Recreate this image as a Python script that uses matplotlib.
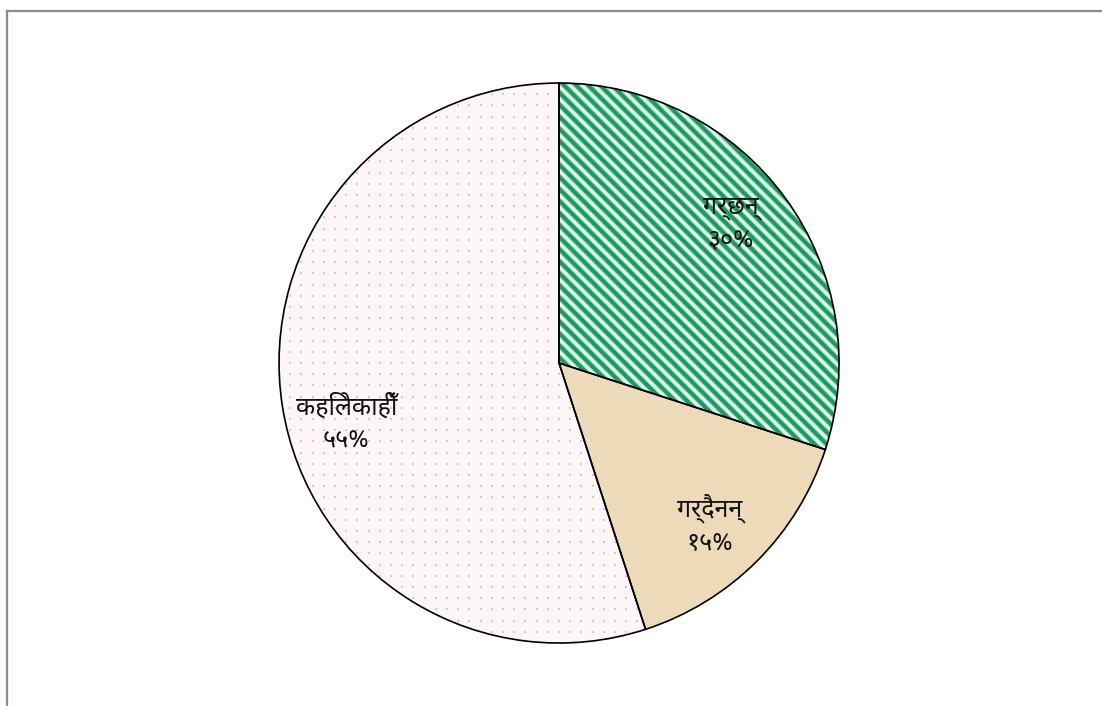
import matplotlib
matplotlib.use("Agg")
import matplotlib.pyplot as plt
from matplotlib.lines import Line2D
from matplotlib.collections import LineCollection
import numpy as np

labels = ["गर्छन्", "गर्दैनन्", "कहिलेकाहीँ"]
values = [30, 15, 55]
pct_labels = ["३०%", "१५%", "५५%"]

face_colors = ["#eefaf3", "#ecdab8", "#fdf6f6"]
label_angle_shift = [3, -2, 7]   # degrees, fine placement of labels
label_radius = 0.79
FONT = ["Noto Sans Devanagari", "DejaVu Sans"]

fig = plt.figure(figsize=(11.02, 7.06), dpi=100)
ax = fig.add_axes([0.2532, 0.0892, 0.5082, 0.7932])
wedges, _ = ax.pie(values, startangle=90, counterclock=False,
                   colors=face_colors, radius=1.0,
                   wedgeprops=dict(linewidth=0))

# texture: diagonal green stripes on first slice
c_vals = np.arange(-2.0, 2.0, 0.043)
segs = [[(-1.5, c + 1.5), (1.5, c - 1.5)] for c in c_vals]
halo = LineCollection(segs, colors="#9fe6c6", linewidths=4.6, zorder=1.9)
ax.add_collection(halo)
halo.set_clip_path(wedges[0])
stripes = LineCollection(segs, colors="#1c9a60", linewidths=2.9, zorder=2)
ax.add_collection(stripes)
stripes.set_clip_path(wedges[0])

# texture: faint dots on third slice
g = np.arange(-1.0, 1.0, 0.04)
gx, gy = np.meshgrid(g, g)
dots = ax.scatter(gx.ravel(), gy.ravel(), s=3.0, marker="s", c="#dcc3ca",
                  linewidths=0, zorder=2)
dots.set_clip_path(wedges[2])

# outlines
ax.pie(values, startangle=90, counterclock=False, radius=1.0,
       wedgeprops=dict(fill=False, edgecolor="black", linewidth=1.2, zorder=3))

for w, lab, pct, sh in zip(wedges, labels, pct_labels, label_angle_shift):
    mid = np.deg2rad((w.theta1 + w.theta2) / 2 + sh)
    ax.text(label_radius * np.cos(mid), label_radius * np.sin(mid),
            lab + "\n" + pct, ha="center", va="center", fontsize=18,
            family=FONT, linespacing=1.45, zorder=4, color="#111111")

ax.set_xlim(-1, 1)
ax.set_ylim(-1, 1)
ax.set_aspect("equal")
ax.axis("off")

fig.add_artist(Line2D([7/1102, 7/1102], [-0.1, 1 - 11/706], transform=fig.transFigure,
                      color="#8c8c8c", linewidth=1.6))
fig.add_artist(Line2D([7/1102, 1.1], [1 - 11/706, 1 - 11/706], transform=fig.transFigure,
                      color="#8c8c8c", linewidth=1.6))
fig.savefig("out.png", dpi=100)
